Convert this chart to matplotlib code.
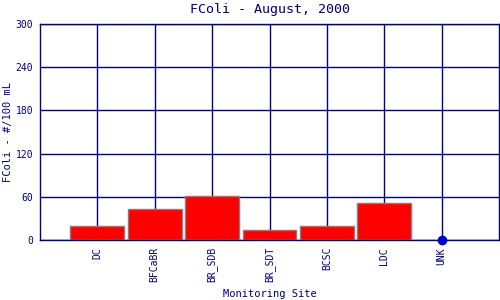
import matplotlib
matplotlib.use('Agg')
import matplotlib.pyplot as plt
import numpy as np

# 데이터
sites = ['DC', 'BFCaBR', 'BR_SDB', 'BR_SDT', 'BCSC', 'LDC', 'UNK']
fcoli = [19, 43, 61, 13.5, 19, 51, 0]
has_bar = [True, True, True, True, True, True, False]
yticks = [0, 60, 120, 180, 240, 300]

navy = '#000080'
plt.rcParams['font.family'] = ['DejaVu Sans Mono']

fig = plt.figure(figsize=(5, 3), dpi=100)
ax = fig.add_axes([0.08, 0.2, 0.918, 0.72])

x = np.arange(1, len(sites) + 1)
ax.set_axisbelow(True)
ax.grid(True, color=navy, linewidth=1)
for xi, v, b in zip(x, fcoli, has_bar):
    if b:
        ax.bar(xi, v, width=0.94, color='#ff0000', edgecolor='#808080', linewidth=1, zorder=3)
    else:
        ax.plot(xi, v, 'o', color='#0000cc', markersize=6, zorder=4, clip_on=False)

ax.set_xlim(0, 8)
ax.set_ylim(0, 300)
ax.set_xticks(x)
ax.set_xticklabels(sites, rotation=90, fontsize=7, color=navy)
ax.set_yticks(yticks)
ax.set_yticklabels([str(t) for t in yticks], fontsize=7, color=navy)
ax.tick_params(length=0, pad=5)
for s in ax.spines.values():
    s.set_color(navy)
    s.set_linewidth(1)

ax.set_title('FColi - August, 2000', fontsize=9.6, color=navy, pad=8)
ax.set_xlabel('Monitoring Site', fontsize=7.5, color=navy)
ax.set_ylabel('FColi - #/100 mL', fontsize=7.5, color=navy)
ax.xaxis.set_label_coords(0.5, -0.25)
ax.yaxis.set_label_coords(-0.07, 0.5)
ax.xaxis.label.set_va('center')
ax.yaxis.label.set_va('center')

fig.savefig('out.png', dpi=100)
